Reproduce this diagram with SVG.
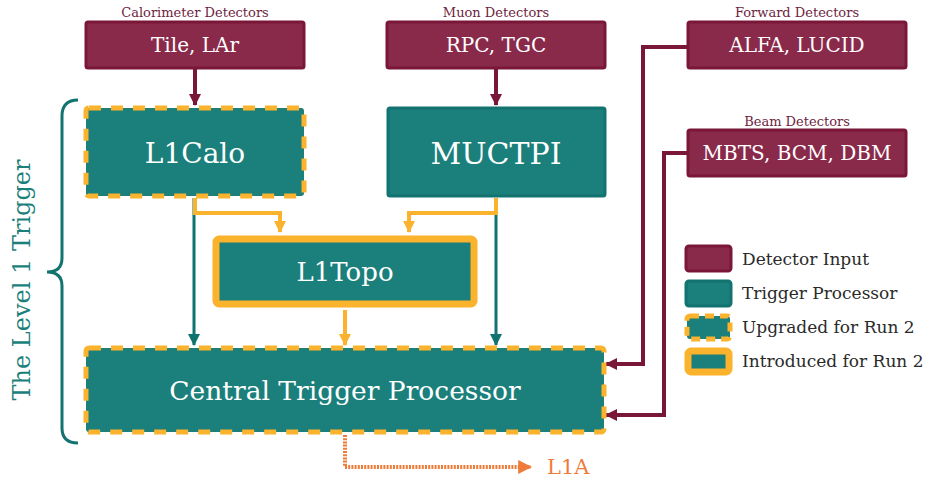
<svg xmlns="http://www.w3.org/2000/svg" width="926" height="480" viewBox="0 0 926 480" font-family="'DejaVu Serif', serif">
<defs>
<style>
text{font-family:'DejaVu Serif',serif}
.det{fill:#8a2a4b;stroke:#7a1637;stroke-width:3}
.proc{fill:#1b7f7b;stroke:#127370;stroke-width:3}
.upg{fill:#1b7f7b;stroke:#fbb22c;stroke-width:5;stroke-dasharray:12 10}
.intro{fill:#1b7f7b;stroke:#fbb22c;stroke-width:7}
.cap{fill:#6e2340;font-size:13px;text-anchor:middle}
.wt{fill:#ffffff;text-anchor:middle}
.leg{fill:#2a2a2a;font-size:17px}
.cm{fill:none;stroke:#7a1637;stroke-width:4}
.ct{fill:none;stroke:#0f7370;stroke-width:3}
.co{fill:none;stroke:#fbb22c;stroke-width:4}
</style>
<marker id="am" viewBox="0 0 12 12" refX="11" refY="6" markerWidth="12" markerHeight="12" markerUnits="userSpaceOnUse" orient="auto"><path d="M0,0 L12,6 L0,12 z" fill="#7a1637"/></marker>
<marker id="at" viewBox="0 0 12 12" refX="11" refY="6" markerWidth="12" markerHeight="12" markerUnits="userSpaceOnUse" orient="auto"><path d="M0,0 L12,6 L0,12 z" fill="#0f7370"/></marker>
<marker id="ao" viewBox="0 0 12 12" refX="11" refY="6" markerWidth="12" markerHeight="12" markerUnits="userSpaceOnUse" orient="auto"><path d="M0,0 L12,6 L0,12 z" fill="#fbb22c"/></marker>
<marker id="ar" viewBox="0 0 12 12" refX="11" refY="6" markerWidth="14" markerHeight="14" markerUnits="userSpaceOnUse" orient="auto"><path d="M0,0 L12,6 L0,12 z" fill="#ef7b3b"/></marker>
</defs>
<rect width="926" height="480" fill="#ffffff"/>

<g id="brace">
<path d="M78,100 Q62,100 62,116 V258 Q62,272 47,272 Q62,272 62,286 V428 Q62,443 78,443" fill="none" stroke="#127370" stroke-width="3"/>
<text transform="translate(30,280) rotate(-90)" text-anchor="middle" font-size="24" fill="#1b7f7b">The Level 1 Trigger</text>
</g>

<g id="connectors">
<path class="cm" d="M195,69 V105" marker-end="url(#am)"/>
<path class="cm" d="M496,69 V105" marker-end="url(#am)"/>
<path class="ct" d="M194,198 V345" marker-end="url(#at)"/>
<path class="ct" d="M496,198 V345" marker-end="url(#at)"/>
<path class="co" d="M195,198 V213 H280 V232" marker-end="url(#ao)"/>
<path class="co" d="M496,198 V213 H409 V232" marker-end="url(#ao)"/>
<path class="co" d="M345,310 V345" marker-end="url(#ao)"/>
<path class="cm" d="M687,47 H643 V364 H606" marker-end="url(#am)"/>
<path class="cm" d="M687,153 H664 V415 H606" marker-end="url(#am)"/>
<path d="M345,435 V467 H531" fill="none" stroke="#ef7b3b" stroke-width="4" stroke-dasharray="2 1.2" marker-end="url(#ar)"/>
</g>

<g id="calo">
<text class="cap" x="195" y="17">Calorimeter Detectors</text>
<rect class="det" x="86" y="22" width="218" height="46" rx="2"/>
<text class="wt" x="195" y="52" font-size="20">Tile, LAr</text>
</g>
<g id="muon">
<text class="cap" x="496" y="17">Muon Detectors</text>
<rect class="det" x="387" y="22" width="218" height="46" rx="2"/>
<text class="wt" x="496" y="52" font-size="20">RPC, TGC</text>
</g>
<g id="forward">
<text class="cap" x="797" y="17">Forward Detectors</text>
<rect class="det" x="688" y="22" width="218" height="46" rx="2"/>
<text class="wt" x="797" y="52" font-size="20">ALFA, LUCID</text>
</g>
<g id="beam">
<text class="cap" x="797" y="126">Beam Detectors</text>
<rect class="det" x="688" y="130" width="218" height="46" rx="2"/>
<text class="wt" x="797" y="160" font-size="20">MBTS, BCM, DBM</text>
</g>

<g id="l1calo">
<rect class="upg" x="86" y="108" width="218" height="88" rx="3"/>
<text class="wt" x="195" y="163" font-size="28">L1Calo</text>
</g>
<g id="muctpi">
<rect class="proc" x="388" y="108" width="217" height="88" rx="2"/>
<text class="wt" x="496" y="164" font-size="30">MUCTPI</text>
</g>
<g id="l1topo">
<rect class="intro" x="216" y="239" width="258" height="65" rx="3"/>
<text class="wt" x="345" y="281" font-size="26">L1Topo</text>
</g>
<g id="ctp">
<rect class="upg" x="86" y="348" width="518" height="84" rx="3"/>
<text class="wt" x="345" y="400" font-size="26.5">Central Trigger Processor</text>
</g>
<g id="l1a">
<text x="547" y="474" font-size="21" fill="#ef7b3b">L1A</text>
</g>

<g id="legend">
<rect class="det" x="686" y="246" width="45" height="25" rx="3"/>
<text class="leg" x="742" y="265">Detector Input</text>
<rect class="proc" x="686" y="281" width="45" height="25" rx="3"/>
<text class="leg" x="742" y="299">Trigger Processor</text>
<rect class="upg" x="687" y="316" width="43" height="23" rx="3" style="stroke-dasharray:9 6"/>
<text class="leg" x="742" y="333">Upgraded for Run 2</text>
<rect class="intro" x="688" y="351" width="41" height="21" rx="3"/>
<text class="leg" x="742" y="367">Introduced for Run 2</text>
</g>
</svg>
